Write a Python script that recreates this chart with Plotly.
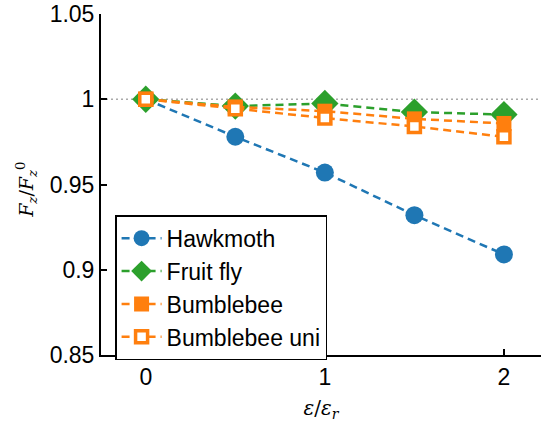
import plotly.graph_objects as go

x_vals = [0, 0.5, 1, 1.5, 2]
hawkmoth = [1.0, 0.978, 0.957, 0.932, 0.909]
fruit_fly = [1.0, 0.996, 0.9975, 0.9925, 0.991]
bumblebee = [1.0, 0.9955, 0.993, 0.9885, 0.9858]
bumblebee_uni = [1.0, 0.9945, 0.989, 0.984, 0.978]
y_ticks = [0.85, 0.9, 0.95, 1.0, 1.05]
y_ticktext = ["0.85", "0.9", "0.95", "1", "1.05"]
x_ticks = [0, 1, 2]

BLUE = "#1f77b4"
GREEN = "#2ca02c"
ORANGE = "#ff7f0e"
DASH = "8px,5px"

fig = go.Figure()
fig.add_trace(go.Scatter(x=x_vals, y=hawkmoth, name="Hawkmoth", mode="lines+markers",
                         line=dict(color=BLUE, width=2.5, dash=DASH),
                         marker=dict(symbol="circle", size=18, color=BLUE)))
fig.add_trace(go.Scatter(x=x_vals, y=fruit_fly, name="Fruit fly", mode="lines+markers",
                         line=dict(color=GREEN, width=2.5, dash=DASH),
                         marker=dict(symbol="diamond", size=21, color=GREEN)))
fig.add_trace(go.Scatter(x=x_vals, y=bumblebee, name="Bumblebee", mode="lines+markers",
                         line=dict(color=ORANGE, width=2.5, dash=DASH),
                         marker=dict(symbol="square", size=15, color=ORANGE)))
fig.add_trace(go.Scatter(x=x_vals, y=bumblebee_uni, name="Bumblebee uni", mode="lines+markers",
                         line=dict(color=ORANGE, width=2.5, dash=DASH),
                         marker=dict(symbol="square", size=12, color="white",
                                     line=dict(color=ORANGE, width=3.5))))

fig.add_hline(y=1.0, line=dict(color="#aaaaaa", width=1.5, dash="2px,3px"), layer="below")

fig.add_annotation(
    text="<i>F</i><sub><i>z</i></sub>/<i>F</i><sub><i>z</i></sub><sup>0</sup>",
    xref="paper", yref="paper", x=-0.17, y=0.485, xanchor="center", yanchor="middle",
    textangle=-90, showarrow=False,
    font=dict(family="DejaVu Serif, serif", size=19, color="black"))

fig.update_layout(
    width=541, height=423,
    margin=dict(l=101, r=0, t=14, b=68),
    plot_bgcolor="white", paper_bgcolor="white",
    font=dict(family="Liberation Sans, Arial, sans-serif", size=23, color="black"),
    showlegend=True,
    legend=dict(x=0.032, y=0.41, xanchor="left", yanchor="top",
                bgcolor="white", bordercolor="black", borderwidth=1.5,
                font=dict(size=23), tracegroupgap=0, itemsizing="trace", itemwidth=40),
    xaxis=dict(range=[-0.25, 2.207], tickvals=x_ticks, ticks="inside", ticklen=6, tickwidth=2,
               tickcolor="black", showline=True, linecolor="black", linewidth=2,
               showgrid=False, zeroline=False,
               title=dict(text="<i>ε</i>/<i>ε</i><sub><i>r</i></sub>",
                          font=dict(family="DejaVu Serif, serif", size=20), standoff=12)),
    yaxis=dict(range=[0.85, 1.05], tickvals=y_ticks, ticktext=y_ticktext, ticks="inside",
               ticklen=6, tickwidth=2, tickcolor="black", showline=True, linecolor="black",
               linewidth=2, showgrid=False, zeroline=False),
)

fig.write_html("out.html")
